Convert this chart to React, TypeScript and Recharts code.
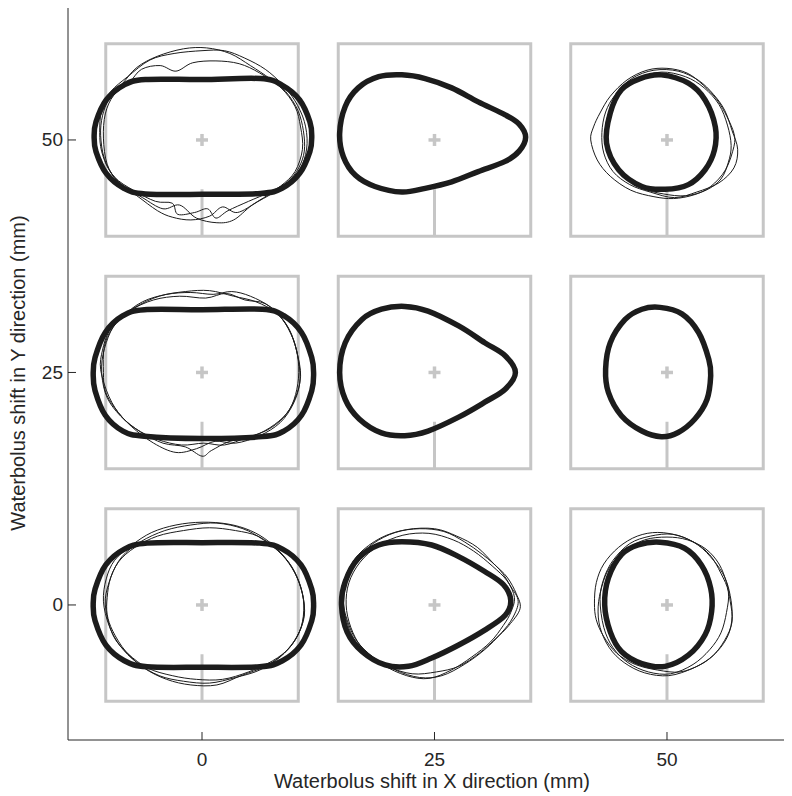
import React from 'react';
import { ComposedChart, XAxis, YAxis, Scatter, ReferenceArea, ReferenceLine } from 'recharts';

type Pt = [number, number];

// waterbolus shifts (mm) and axis ticks
const xShifts = [0, 25, 50];
const yShifts = [0, 25, 50];
const axisTicks = [0, 25, 50];

// Simulated contours, mm relative to the shift position
const simX0Y50: Pt[] = [
  [-11.6, 0.35], [-11.4, 1.95], [-10.3, 4.3], [-8.4, 5.9], [-6.1, 6.5], [0, 6.5], [6.3, 6.6], [8.6, 5.9],
  [10.5, 4.3], [11.6, 1.95], [11.8, 0.35], [11.6, -1.25], [10.5, -3.6], [8.6, -5.2], [6.3, -5.75], [0, -5.85],
  [-6.1, -5.8], [-8.4, -5.2], [-10.3, -3.6], [-11.4, -1.25],
];
const simX25Y50: Pt[] = [
  [-10.2, 0.7], [-9.6, 3.6], [-8.2, 5.6], [-6.0, 6.8], [-3.5, 7.0], [-1.0, 6.6], [1.85, 5.6], [4.7, 4.1],
  [7.6, 2.7], [9.1, 1.7], [9.8, 0.3], [9.1, -1.2], [7.6, -2.3], [4.7, -3.4], [1.85, -4.5], [-1.0, -5.2],
  [-3.5, -5.6], [-6.4, -5.0], [-8.5, -3.8], [-9.8, -1.8],
];
const simX50Y50: Pt[] = [
  [-0.6, 7.0], [2.3, 6.1], [4.1, 4.3], [5.2, 1.4], [5.1, -1.1], [4.1, -3.2], [2.3, -4.8], [-0.2, -5.3],
  [-2.7, -5.0], [-5.2, -3.2], [-6.5, -0.35], [-6.1, 2.9], [-4.9, 5.4], [-2.9, 6.6],
];
const simX0Y25: Pt[] = [
  [-11.7, -0.17], [-11.5, 1.6], [-10.4, 4.3], [-8.5, 6.1], [-6.2, 6.75], [0, 6.75], [6.5, 6.8], [8.8, 6.1],
  [10.7, 4.3], [11.8, 1.6], [12.0, -0.17], [11.8, -1.96], [10.7, -4.6], [8.8, -6.3], [6.5, -6.9], [0, -7.1],
  [-6.2, -6.85], [-8.5, -6.3], [-10.4, -4.6], [-11.5, -1.96],
];
const simX25Y25: Pt[] = [
  [-10.2, 0], [-9.6, 3.2], [-7.8, 5.7], [-5.7, 6.8], [-3.2, 7.1], [-0.7, 6.6], [2.6, 5.0], [5.4, 3.2],
  [7.6, 1.8], [8.7, 0], [7.6, -1.8], [5.4, -3.2], [2.6, -4.8], [-0.7, -6.3], [-3.2, -6.8], [-5.7, -6.5],
  [-8.1, -5.0], [-9.6, -2.9],
];
const simX50Y25: Pt[] = [
  [-0.75, 7.0], [1.6, 6.3], [3.4, 4.3], [4.5, 1.4], [4.7, -0.35], [4.3, -2.9], [3.0, -5.0], [1.2, -6.45],
  [-0.6, -6.9], [-2.7, -6.3], [-4.9, -4.65], [-6.3, -2.15], [-6.6, 0.35], [-6.1, 3.2], [-4.5, 5.7], [-2.7, 6.8],
];
const simX0Y0: Pt[] = [
  [-11.7, 0], [-11.5, 1.7], [-10.35, 4.3], [-8.35, 6.0], [-5.9, 6.65], [0, 6.7], [6.2, 6.65], [8.65, 6.0],
  [10.65, 4.3], [11.8, 1.7], [12.0, 0], [11.8, -1.7], [10.65, -4.3], [8.65, -6.0], [6.2, -6.65], [0, -6.7],
  [-5.9, -6.65], [-8.35, -6.0], [-10.35, -4.3], [-11.5, -1.7],
];
const simX25Y0: Pt[] = [
  [-10.0, 0], [-9.6, 2.5], [-8.2, 5.0], [-6.0, 6.45], [-3.5, 6.8], [-0.3, 6.45], [2.6, 5.2], [5.4, 3.6],
  [7.4, 2.2], [8.2, 0.5], [7.6, -1.1], [5.4, -2.7], [2.6, -4.3], [-0.3, -5.7], [-2.8, -6.6], [-5.3, -6.45],
  [-7.8, -5.0], [-9.4, -2.9],
];
const simX50Y0: Pt[] = [
  [-0.75, 6.75], [1.9, 6.1], [3.7, 4.3], [4.7, 1.8], [4.8, -0.7], [4.1, -3.2], [2.3, -5.4], [-0.2, -6.6],
  [-2.7, -6.3], [-4.9, -5.0], [-6.1, -2.9], [-6.7, 0], [-6.3, 2.9], [-4.9, 5.4], [-3.1, 6.45],
];

// Measured contours (repeated runs), mm relative to the shift position
const measX0Y50: Pt[][] = [
  [[-10.9, 0.5], [-10.7, 2.6], [-10.0, 4.4], [-8.6, 6.0], [-7.0, 7.8], [-4.8, 9.0], [-2.0, 9.8], [0.5, 9.9],
   [3.0, 9.3], [5.2, 8.0], [7.3, 6.6], [9.0, 5.2], [10.3, 3.2], [10.9, 1.0], [11.0, -1.2], [10.4, -3.0],
   [9.2, -4.5], [7.3, -5.6], [5.0, -6.6], [2.8, -7.6], [1.5, -8.4], [0.6, -7.4], [-0.8, -7.8], [-2.6, -8.0],
   [-3.2, -6.8], [-5.0, -6.6], [-7.4, -5.4], [-9.4, -4.0], [-10.5, -2.0]],
  [[-10.6, 0.2], [-10.4, 2.8], [-9.5, 4.8], [-7.8, 6.2], [-6.5, 7.6], [-4.5, 8.0], [-2.8, 7.4], [-1.0, 8.3],
   [1.5, 8.5], [4.0, 8.2], [6.2, 7.2], [8.5, 5.6], [10.0, 3.6], [10.6, 1.4], [10.8, -1.0], [10.0, -3.4],
   [8.4, -5.0], [6.0, -6.6], [3.8, -7.8], [2.2, -7.2], [0.8, -8.2], [-1.2, -8.6], [-3.2, -8.3], [-4.8, -7.6],
   [-7.0, -6.0], [-9.0, -4.6], [-10.2, -2.6]],
  [[-11.0, 0.8], [-10.8, 3.2], [-9.8, 5.2], [-8.0, 6.8], [-5.6, 8.6], [-3.0, 9.3], [0.0, 9.6], [2.4, 9.6],
   [4.6, 8.8], [6.8, 7.6], [8.6, 6.0], [10.0, 4.2], [11.0, 2.0], [11.3, -0.4], [10.8, -2.6], [9.6, -4.2],
   [7.8, -5.6], [5.4, -7.0], [3.4, -8.6], [1.6, -8.9], [-0.6, -8.4], [-2.4, -7.0], [-4.2, -7.4], [-6.4, -6.2],
   [-8.6, -4.8], [-10.0, -3.2], [-10.8, -1.2]],
];
const measX50Y50: Pt[][] = [
  [[-8.2, 0], [-7.9, 1.4], [-7.2, 2.9], [-6.1, 4.7], [-4.3, 6.45], [-2.15, 7.5], [0, 7.7], [2.15, 7.2],
   [3.9, 5.9], [5.4, 4.3], [6.45, 2.5], [7.2, 0.7], [7.2, -0.7], [6.3, -3.2], [4.7, -5.0], [2.9, -5.9],
   [0.7, -6.3], [-1.4, -6.1], [-3.9, -5.4], [-6.1, -3.9], [-7.5, -2.15]],
  [[-6.6, 0.5], [-6.3, 2.8], [-5.0, 5.0], [-3.0, 6.6], [-0.6, 7.3], [2.0, 6.8], [4.0, 5.6], [5.6, 3.8],
   [6.5, 1.6], [6.9, -0.6], [6.6, -2.4], [5.8, -4.2], [4.2, -5.4], [2.0, -6.0], [-0.4, -5.8], [-2.6, -5.2],
   [-4.6, -4.0], [-6.0, -2.2]],
  [[-7.0, 0.8], [-6.6, 3.0], [-5.6, 4.8], [-3.8, 6.6], [-1.4, 7.5], [1.2, 7.4], [3.4, 6.4], [5.0, 4.9],
   [6.2, 3.2], [7.0, 1.0], [7.6, -1.0], [7.2, -3.0], [5.6, -4.6], [3.2, -5.6], [0.8, -6.2], [-1.8, -5.6],
   [-4.0, -4.8], [-5.8, -3.4], [-6.8, -1.4]],
];
const measX0Y25: Pt[][] = [
  [[-10.9, 0.3], [-10.7, 2.4], [-10.0, 4.4], [-8.6, 6.0], [-6.4, 7.6], [-3.8, 8.4], [-1.2, 8.6], [1.2, 8.4],
   [3.2, 8.7], [5.2, 8.2], [7.4, 7.0], [9.0, 5.2], [10.0, 3.0], [10.4, 0.6], [10.2, -1.8], [9.4, -4.0],
   [7.8, -5.6], [5.6, -6.8], [3.0, -7.4], [1.0, -8.4], [0.0, -9.0], [-1.8, -8.0], [-4.2, -7.6], [-6.6, -6.4],
   [-8.6, -4.8], [-10.0, -2.6]],
  [[-10.6, 0.0], [-10.5, 2.8], [-9.6, 4.8], [-7.8, 6.6], [-5.2, 7.8], [-2.4, 8.2], [0.4, 8.0], [2.6, 8.5],
   [4.6, 7.8], [6.8, 7.4], [8.6, 5.8], [9.8, 3.6], [10.4, 1.2], [10.5, -1.2], [9.8, -3.4], [8.4, -5.4],
   [6.2, -6.8], [3.6, -7.6], [1.4, -7.4], [-0.6, -8.2], [-2.8, -8.6], [-5.2, -7.6], [-7.6, -5.8], [-9.4, -3.8],
   [-10.4, -2.0]],
  [[-10.8, 0.6], [-10.3, 3.2], [-9.2, 5.4], [-7.2, 7.0], [-4.6, 8.2], [-1.8, 8.7], [0.8, 8.8], [3.4, 8.2],
   [5.8, 7.6], [8.0, 6.4], [9.4, 4.6], [10.2, 2.2], [10.6, -0.4], [10.0, -2.8], [8.8, -4.8], [7.0, -6.2],
   [4.8, -7.0], [2.4, -7.8], [0.2, -7.6], [-2.2, -7.8], [-4.8, -7.2], [-7.2, -6.0], [-9.2, -4.2], [-10.4, -2.2]],
];
const measX0Y0: Pt[][] = [
  [[-10.6, 0.4], [-10.3, 2.8], [-9.4, 4.8], [-7.6, 6.4], [-5.4, 7.8], [-2.8, 8.6], [0.0, 8.9], [2.8, 8.7],
   [5.2, 8.0], [7.2, 6.8], [9.0, 5.0], [10.2, 3.0], [10.9, 0.6], [10.8, -1.8], [10.0, -3.8], [8.4, -5.6],
   [6.2, -7.0], [3.6, -7.8], [0.8, -8.4], [-2.0, -8.2], [-4.6, -7.6], [-7.0, -6.2], [-8.8, -4.4], [-10.0, -2.2]],
  [[-10.4, 0.0], [-10.0, 2.4], [-9.0, 4.6], [-7.2, 6.2], [-4.8, 7.4], [-2.0, 8.0], [0.8, 8.3], [3.6, 8.0],
   [6.0, 7.4], [8.0, 6.0], [9.6, 4.2], [10.6, 2.0], [11.0, -0.4], [10.6, -2.6], [9.4, -4.6], [7.6, -6.0],
   [5.0, -7.2], [2.2, -8.0], [-0.6, -8.0], [-3.2, -7.6], [-5.8, -6.8], [-8.0, -5.2], [-9.6, -3.2]],
  [[-10.2, 0.8], [-9.8, 3.0], [-8.6, 5.2], [-6.6, 6.8], [-4.0, 8.0], [-1.2, 8.6], [1.6, 8.8], [4.4, 8.2],
   [6.6, 7.0], [8.6, 5.4], [10.0, 3.4], [10.8, 1.2], [11.0, -1.2], [10.2, -3.4], [8.8, -5.2], [6.8, -6.6],
   [4.2, -7.6], [1.6, -8.6], [-1.2, -8.6], [-3.8, -8.0], [-6.2, -6.8], [-8.2, -5.0], [-9.6, -2.8], [-10.2, -1.0]],
];
const measX25Y0: Pt[][] = [
  [[-9.8, 0.4], [-9.5, 2.6], [-8.4, 4.8], [-6.6, 6.6], [-4.2, 7.8], [-1.6, 8.2], [1.0, 7.9], [3.2, 6.8],
   [5.2, 5.4], [7.0, 3.8], [8.2, 2.0], [9.0, 0.4], [8.4, -1.4], [7.2, -3.0], [5.4, -4.8], [3.2, -6.4],
   [0.8, -7.6], [-1.6, -7.8], [-4.2, -7.0], [-6.6, -5.6], [-8.4, -3.8], [-9.4, -1.6]],
  [[-9.5, 0.0], [-9.2, 2.4], [-8.0, 4.6], [-6.0, 6.4], [-3.4, 7.5], [-0.6, 7.7], [2.0, 7.0], [4.2, 5.8],
   [6.2, 4.2], [7.8, 2.6], [8.6, 0.8], [8.2, -0.8], [7.4, -2.2], [6.0, -4.0], [4.0, -5.6], [1.8, -7.0],
   [-0.6, -7.9], [-3.0, -7.6], [-5.6, -6.4], [-7.8, -4.6], [-9.0, -2.4]],
  [[-10.0, 0.8], [-9.6, 3.0], [-8.2, 5.4], [-5.8, 7.2], [-3.0, 8.1], [0.0, 8.2], [2.4, 7.4], [4.6, 6.2],
   [6.4, 4.4], [7.8, 3.0], [8.8, 1.2], [9.2, -0.4], [8.0, -2.2], [6.6, -3.6], [4.8, -5.2], [2.6, -6.6],
   [0.2, -7.2], [-2.4, -7.4], [-5.0, -6.6], [-7.4, -5.0], [-9.0, -3.0]],
];
const measX50Y0: Pt[][] = [
  [[-7.8, 0.2], [-7.6, 2.4], [-6.8, 4.4], [-5.2, 6.2], [-3.2, 7.4], [-1.0, 7.8], [1.4, 7.4], [3.4, 6.4],
   [5.0, 4.8], [6.2, 3.0], [6.8, 1.0], [7.0, -1.2], [6.6, -3.2], [5.4, -5.0], [3.6, -6.4], [1.4, -7.2],
   [-1.0, -7.0], [-3.4, -6.4], [-5.4, -5.2], [-6.8, -3.4], [-7.6, -1.6]],
  [[-7.2, 0.6], [-6.8, 2.8], [-5.8, 4.8], [-4.0, 6.6], [-1.8, 7.4], [0.6, 7.6], [2.8, 6.8], [4.6, 5.4],
   [5.8, 3.4], [6.6, 1.4], [6.4, -0.8], [5.8, -3.0], [4.6, -4.8], [2.8, -6.4], [0.4, -7.4], [-2.0, -7.2],
   [-4.2, -6.2], [-5.8, -4.6], [-6.8, -2.4]],
  [[-7.4, -0.2], [-7.0, 2.0], [-6.2, 4.0], [-4.6, 5.8], [-2.4, 7.0], [0.0, 7.3], [2.2, 7.0], [4.2, 6.0],
   [5.6, 4.4], [6.4, 2.4], [6.8, 0.4], [7.0, -1.8], [6.2, -3.8], [4.8, -5.6], [2.8, -6.8], [0.2, -7.6],
   [-2.4, -7.3], [-4.6, -6.2], [-6.2, -4.6], [-7.2, -2.4]],
];

const cells = [
  { sx: xShifts[0], sy: yShifts[2], sim: simX0Y50, meas: measX0Y50 },
  { sx: xShifts[1], sy: yShifts[2], sim: simX25Y50, meas: [] as Pt[][] },
  { sx: xShifts[2], sy: yShifts[2], sim: simX50Y50, meas: measX50Y50 },
  { sx: xShifts[0], sy: yShifts[1], sim: simX0Y25, meas: measX0Y25 },
  { sx: xShifts[1], sy: yShifts[1], sim: simX25Y25, meas: [] as Pt[][] },
  { sx: xShifts[2], sy: yShifts[1], sim: simX50Y25, meas: [] as Pt[][] },
  { sx: xShifts[0], sy: yShifts[0], sim: simX0Y0, meas: measX0Y0 },
  { sx: xShifts[1], sy: yShifts[0], sim: simX25Y0, meas: measX25Y0 },
  { sx: xShifts[2], sy: yShifts[0], sim: simX50Y0, meas: measX50Y0 },
];

const GRAY = '#c6c6c6';
const INK = '#1c1c1c';
const AXIS = '#262626';
const FONT = '"Liberation Sans", Arial, Helvetica, sans-serif';
const BOX_HALF = 10.35;
const STEM_TOP = 5.3;

const shifted = (pts: Pt[], sx: number, sy: number) => pts.map(([dx, dy]) => ({ x: sx + dx, y: sy + dy }));

// closed Catmull-Rom curve, plugged into the line generator of Scatter
function closedSpline(context: any) {
  let pts: number[][] = [];
  return {
    areaStart() {},
    areaEnd() {},
    lineStart() {
      pts = [];
    },
    point(x: number, y: number) {
      pts.push([+x, +y]);
    },
    lineEnd() {
      const n = pts.length;
      if (n < 3) return;
      context.moveTo(pts[0][0], pts[0][1]);
      for (let i = 0; i < n; i++) {
        const p0 = pts[(i + n - 1) % n];
        const p1 = pts[i];
        const p2 = pts[(i + 1) % n];
        const p3 = pts[(i + 2) % n];
        context.bezierCurveTo(
          p1[0] + (p2[0] - p0[0]) / 6,
          p1[1] + (p2[1] - p0[1]) / 6,
          p2[0] - (p3[0] - p1[0]) / 6,
          p2[1] - (p3[1] - p1[1]) / 6,
          p2[0],
          p2[1],
        );
      }
      context.closePath();
    },
  };
}

const NoDot = () => <g />;

const PlusMark = ({ cx, cy }: any) => (
  <g stroke={GRAY} strokeWidth={3.5}>
    <line x1={cx - 6} y1={cy} x2={cx + 6} y2={cy} />
    <line x1={cx} y1={cy - 6} x2={cx} y2={cy + 6} />
  </g>
);

const XTick = ({ x, y, payload }: any) => (
  <g>
    <line x1={x} y1={y} x2={x} y2={y - 8} stroke={AXIS} strokeWidth={1} />
    <text x={x} y={y + 19} textAnchor="middle" dominantBaseline="central" fontFamily={FONT} fontSize={19} fill={AXIS}>
      {payload.value}
    </text>
  </g>
);

const YTick = ({ x, y, payload }: any) => (
  <g>
    <line x1={x} y1={y} x2={x + 8} y2={y} stroke={AXIS} strokeWidth={1} />
    <text x={x - 5} y={y} textAnchor="end" dominantBaseline="central" fontFamily={FONT} fontSize={19} fill={AXIS}>
      {payload.value}
    </text>
  </g>
);

const XTitle = () => (
  <text x={424} y={773} textAnchor="middle" dominantBaseline="central" fontFamily={FONT} fontSize={20} fill={AXIS}>
    Waterbolus shift in X direction (mm)
  </text>
);

const YTitle = () => (
  <text
    x={10}
    y={365}
    transform="rotate(-90, 10, 365)"
    textAnchor="middle"
    dominantBaseline="central"
    fontFamily={FONT}
    fontSize={20}
    fill={AXIS}
  >
    Waterbolus shift in Y direction (mm)
  </text>
);

export default function App() {
  const centers = cells.map((c) => ({ x: c.sx, y: c.sy }));

  return (
    <ComposedChart width={784} height={788} margin={{ top: 0, right: 7, bottom: 0, left: 0 }}>
      <XAxis
        type="number"
        dataKey="x"
        domain={[-14.41, 62.69]}
        ticks={axisTicks}
        allowDataOverflow
        height={56}
        tickSize={0}
        tickMargin={0}
        tickLine={false}
        axisLine={{ stroke: AXIS, strokeWidth: 1 }}
        tick={<XTick />}
        label={{ content: <XTitle /> }}
      />
      <YAxis
        type="number"
        dataKey="y"
        domain={[-14.52, 64.19]}
        ticks={axisTicks}
        allowDataOverflow
        width={60}
        tickSize={0}
        tickMargin={0}
        tickLine={false}
        axisLine={{ stroke: AXIS, strokeWidth: 1 }}
        tick={<YTick />}
        label={{ content: <YTitle /> }}
      />

      {cells.map((c, i) => (
        <ReferenceArea
          key={`box-${i}`}
          x1={c.sx - BOX_HALF}
          x2={c.sx + BOX_HALF}
          y1={c.sy - BOX_HALF}
          y2={c.sy + BOX_HALF}
          fill="none"
          fillOpacity={0}
          stroke={GRAY}
          strokeWidth={3}
          ifOverflow="visible"
        />
      ))}

      {cells.flatMap((c, i) =>
        c.meas.map((m, j) => (
          <Scatter
            key={`meas-${i}-${j}`}
            data={shifted(m, c.sx, c.sy)}
            shape={NoDot}
            line={{ stroke: INK, strokeWidth: 1, fill: 'none', strokeLinejoin: 'round' }}
            lineJointType={closedSpline as any}
            isAnimationActive={false}
          />
        )),
      )}

      {cells.map((c, i) => (
        <Scatter
          key={`sim-${i}`}
          data={shifted(c.sim, c.sx, c.sy)}
          shape={NoDot}
          line={{ stroke: INK, strokeWidth: 5.5, fill: 'none', strokeLinejoin: 'round' }}
          lineJointType={closedSpline as any}
          isAnimationActive={false}
        />
      ))}

      {cells.map((c, i) => (
        <ReferenceLine
          key={`stem-${i}`}
          segment={[
            { x: c.sx, y: c.sy - STEM_TOP },
            { x: c.sx, y: c.sy - BOX_HALF },
          ]}
          stroke={GRAY}
          strokeWidth={3}
          ifOverflow="visible"
        />
      ))}

      <Scatter data={centers} shape={PlusMark} isAnimationActive={false} />
    </ComposedChart>
  );
}
